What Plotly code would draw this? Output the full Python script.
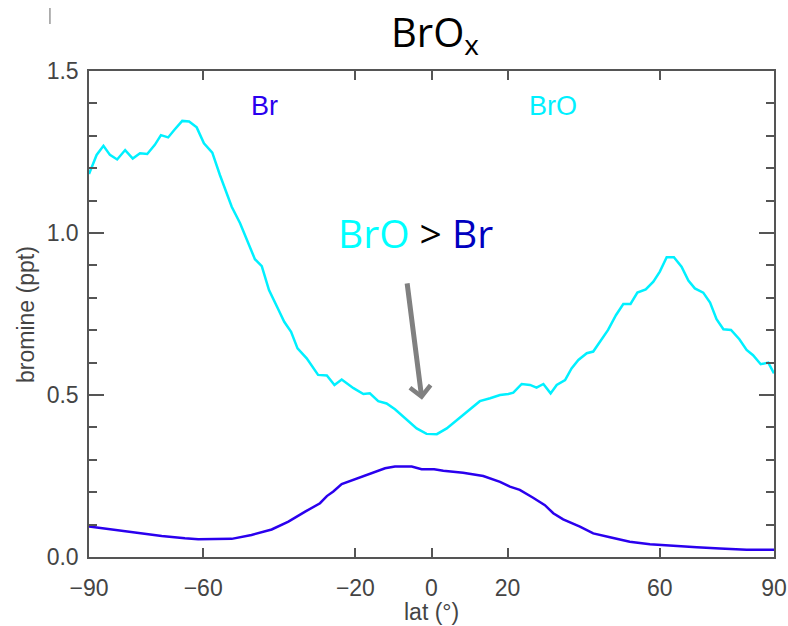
import plotly.graph_objects as go

# ---- data ----
bro_lat = [-90, -88, -86.2, -84.5, -82.6, -80.5, -78.5, -76.6, -74.7, -72.7, -71.1, -69.2, -67.6,
           -65.5, -63.7, -61.7, -59.8, -57.6, -55.6, -54.3, -52.5, -50.3, -48.1, -46.4, -44.6,
           -42.7, -40.4, -38.7, -36.9, -35.2, -32.8, -29.8, -27.5, -25.5, -23.6, -20.5, -17.9,
           -16.2, -14.0, -11.8, -9.6, -7.0, -3.9, -1.3, 1.4, 4.0, 6.6, 9.7, 12.7, 15.4, 18.0,
           20.2, 21.5, 23.7, 25.9, 27.6, 29.4, 31.3, 32.9, 35.1, 36.8, 38.6, 40.8, 42.5, 44.3,
           46.4, 48.5, 50.4, 52.3, 54.1, 56.3, 58.3, 60.0, 61.8, 63.7, 65.7, 67.5, 69.2, 71.4,
           73.2, 74.9, 76.7, 78.7, 80.9, 82.8, 84.5, 86.5, 88.5, 90]
bro_val = [1.182, 1.241, 1.269, 1.241, 1.227, 1.256, 1.230, 1.246, 1.244, 1.272, 1.302, 1.295, 1.318,
           1.346, 1.344, 1.326, 1.277, 1.248, 1.179, 1.138, 1.081, 1.030, 0.968, 0.919, 0.898,
           0.824, 0.768, 0.726, 0.695, 0.644, 0.613, 0.562, 0.560, 0.531, 0.548, 0.521, 0.503,
           0.505, 0.481, 0.474, 0.456, 0.428, 0.397, 0.380, 0.379, 0.397, 0.423, 0.454, 0.481,
           0.490, 0.500, 0.503, 0.507, 0.534, 0.531, 0.523, 0.534, 0.505, 0.531, 0.546, 0.582,
           0.608, 0.629, 0.634, 0.665, 0.701, 0.747, 0.781, 0.781, 0.816, 0.826, 0.850, 0.881,
           0.925, 0.925, 0.896, 0.853, 0.829, 0.816, 0.785, 0.734, 0.703, 0.701, 0.672, 0.639,
           0.623, 0.595, 0.600, 0.567]

br_lat = [-90, -84, -77.9, -70.9, -64.8, -61.3, -52.5, -47.3, -42, -37.6, -33.2, -29.3, -27.5,
          -25.8, -23.6, -20.1, -15.7, -12.2, -9.6, -5.2, -2.6, 0.7, 3.1, 8.3, 13.6, 18, 20.6,
          23.2, 26.7, 29.8, 32, 34.6, 39, 42.5, 46.9, 52.1, 57.4, 60.9, 69.7, 75.8, 82.8, 90]
br_val = [0.094, 0.085, 0.075, 0.065, 0.058, 0.055, 0.056, 0.068, 0.085, 0.109, 0.140, 0.166, 0.188,
          0.202, 0.225, 0.240, 0.260, 0.274, 0.279, 0.279, 0.271, 0.271, 0.266, 0.260, 0.250,
          0.232, 0.217, 0.207, 0.183, 0.160, 0.135, 0.116, 0.094, 0.073, 0.061, 0.047, 0.039,
          0.037, 0.030, 0.026, 0.022, 0.022]

x_ticks = [-90, -60, -20, 0, 20, 60, 90]
x_tick_labels = ["\u221290", "\u221260", "\u221220", "0", "20", "60", "90"]
y_ticks = [0.0, 0.5, 1.0, 1.5]
y_tick_labels = ["0.0", "0.5", "1.0", "1.5"]

# ---- styles ----
BR_COLOR = "#2a00ee"
BRO_COLOR = "#00f0ff"
AXIS_COLOR = "#555555"
TEXT_COLOR = "#444444"
IDL_FONT = "Liberation Sans, DejaVu Sans, sans-serif"

fig = go.Figure()
fig.add_trace(go.Scatter(x=bro_lat, y=bro_val, mode="lines",
                         line=dict(color=BRO_COLOR, width=2.5), showlegend=False))
fig.add_trace(go.Scatter(x=br_lat, y=br_val, mode="lines",
                         line=dict(color=BR_COLOR, width=2.5), showlegend=False))

fig.update_layout(
    width=788, height=626,
    margin=dict(l=89, r=14, t=71, b=69, autoexpand=False),
    paper_bgcolor="white", plot_bgcolor="white",
    title=dict(text="BrO<sub>x</sub>", x=0.505, xref="paper", xanchor="center",
               y=1 - 33 / 626, yref="container", yanchor="middle",
               font=dict(family="Open Sans", size=40, color="black")),
    font=dict(family=IDL_FONT, color=TEXT_COLOR),
)

fig.update_xaxes(
    range=[-90, 90], tickmode="array", tickvals=x_ticks, ticktext=x_tick_labels,
    ticks="inside", ticklen=9, tickwidth=1.5, tickcolor=AXIS_COLOR,
    showline=True, linecolor=AXIS_COLOR, linewidth=1.5, mirror="ticks",
    showgrid=False, zeroline=False, automargin=False,
    tickfont=dict(size=23, color=TEXT_COLOR), ticklabelstandoff=10,
)
fig.update_yaxes(
    range=[0, 1.5], tickmode="array", tickvals=y_ticks, ticktext=y_tick_labels,
    ticks="inside", ticklen=15, tickwidth=1.5, tickcolor=AXIS_COLOR,
    minor=dict(dtick=0.1, ticks="inside", ticklen=8, tickwidth=1.5, tickcolor=AXIS_COLOR,
               showgrid=False),
    showline=True, linecolor=AXIS_COLOR, linewidth=1.5, mirror="ticks",
    showgrid=False, zeroline=False, automargin=False,
    tickfont=dict(size=23, color=TEXT_COLOR), ticklabelstandoff=4,
)

# axis titles (placed as annotations for exact positioning)
fig.add_annotation(x=0.5, y=-0.113, xref="paper", yref="paper", text="lat (°)",
                   showarrow=False, yanchor="middle",
                   font=dict(family=IDL_FONT, size=23, color=TEXT_COLOR))
fig.add_annotation(x=-0.092, y=0.5, xref="paper", yref="paper", text="bromine (ppt)",
                   showarrow=False, textangle=-90, xanchor="center", yanchor="middle",
                   font=dict(family=IDL_FONT, size=23, color=TEXT_COLOR))

# in-plot labels
fig.add_annotation(x=-43.8, y=1.392, xref="x", yref="y", text="Br", showarrow=False,
                   font=dict(family=IDL_FONT, size=27, color=BR_COLOR))
fig.add_annotation(x=31.9, y=1.392, xref="x", yref="y", text="BrO", showarrow=False,
                   font=dict(family=IDL_FONT, size=27, color=BRO_COLOR))

# BrO > Br callout
fig.add_annotation(x=-4.1, y=1.003, xref="x", yref="y",
                   text="<span style='color:#00ffff'>BrO</span> &gt; "
                        "<span style='color:#0000c0'>Br</span>",
                   showarrow=False, font=dict(family="Open Sans", size=39, color="black"))
fig.add_annotation(x=-2.5, y=0.485, ax=-6.45, ay=0.849, xref="x", yref="y",
                   axref="x", ayref="y", text="", showarrow=True,
                   arrowhead=4, arrowsize=0.8, arrowwidth=5, arrowcolor="#808080")

# small stray mark at the top-left of the reference
fig.add_shape(type="line", xref="paper", yref="paper",
              x0=-0.057, x1=-0.057, y0=1.0967, y1=1.1296,
              line=dict(color="#666666", width=1))

fig.write_html("out.html")
